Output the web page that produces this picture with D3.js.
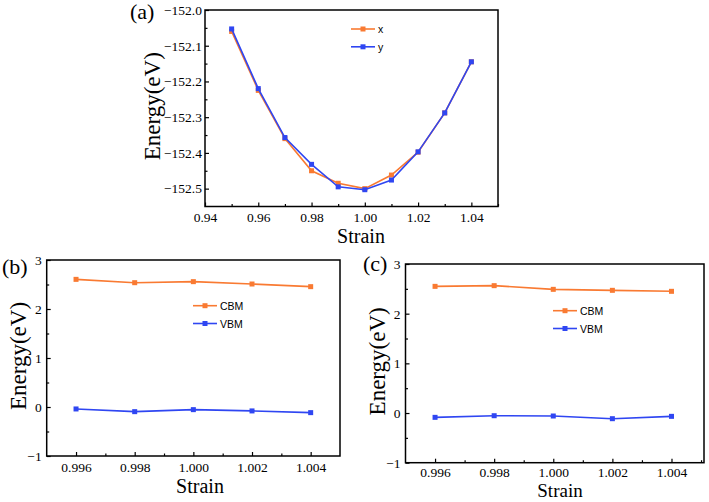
<!DOCTYPE html>
<html>

<head>
    <meta charset='utf-8'>
</head>
<style>
    body {
        margin: 0;
        background: #fff;
    }

    .frame {
        fill: none;
        stroke: #000;
        stroke-width: 1.5px;
    }

    .title {
        font-family: "Liberation Serif", "Times New Roman", serif;
        fill: #000;
    }

    .legend text {
        font-family: "Liberation Sans", Arial, sans-serif;
        font-size: 10.5px;
        fill: #000;
    }
</style>

<body>
    <div id='chart'></div>
    <script src="https://d3js.org/d3.v7.min.js"></script>
    <script>
        // panel (a): total energy vs strain
        var strainA = [0.95, 0.96, 0.97, 0.98, 0.99, 1.00, 1.01, 1.02, 1.03, 1.04];
        var energyX = [-152.060, -152.225, -152.360, -152.450, -152.485, -152.500, -152.462, -152.398, -152.288, -152.145];
        var energyY = [-152.053, -152.220, -152.357, -152.432, -152.495, -152.503, -152.476, -152.397, -152.288, -152.145];
        var xTicksA = [0.94, 0.96, 0.98, 1.00, 1.02, 1.04];
        var yTicksA = [-152.0, -152.1, -152.2, -152.3, -152.4, -152.5];

        // panels (b) and (c): band edges vs strain
        var strainBC = [0.996, 0.998, 1.000, 1.002, 1.004];
        var cbmB = [2.605, 2.537, 2.558, 2.510, 2.456];
        var vbmB = [-0.040, -0.095, -0.054, -0.080, -0.115];
        var cbmC = [2.550, 2.564, 2.490, 2.470, 2.450];
        var vbmC = [-0.087, -0.054, -0.060, -0.114, -0.067];
        var xTicksBC = [0.996, 0.998, 1.000, 1.002, 1.004];
        var yTicksBC = [-1, 0, 1, 2, 3];

        var orange = '#f97a32';
        var blue = '#2f46f2';
        var serif = '"Liberation Serif", "Times New Roman", serif';

        var svg = d3.select('#chart').append('svg')
            .attr('width', 709)
            .attr('height', 502);

        var panels = [{
            tag: '(a)', tagX: 130, tagY: 19,
            left: 205, right: 498, top: 10, bottom: 206.5,
            xDomain: [0.94, 1.05], yDomain: [-152.55, -152.0],
            xTicks: xTicksA, yTicks: yTicksA, xFmt: '.2f', yFmt: '.1f',
            xMinorStep: 0.01,
            xPad: 6, yPad: 3,
            yTitleX: 160, xTitleX: 361, xTitleY: 243, xTitleSize: 20,
            x: strainA,
            series: [{ name: 'x', values: energyX, color: orange }, { name: 'y', values: energyY, color: blue }],
            legX: 351, legY: 29
        }, {
            tag: '(b)', tagX: 2, tagY: 274,
            left: 46.7, right: 340, top: 260, bottom: 456,
            xDomain: [0.995, 1.005], yDomain: [-1, 3],
            xTicks: xTicksBC, yTicks: yTicksBC, xFmt: '.3f', yFmt: 'd',
            xMinorStep: 0.001,
            xPad: 6, yPad: 5,
            yTitleX: 26, xTitleX: 200, xTitleY: 493, xTitleSize: 20,
            x: strainBC,
            series: [{ name: 'CBM', values: cbmB, color: orange }, { name: 'VBM', values: vbmB, color: blue }],
            legX: 193, legY: 305.7
        }, {
            tag: '(c)', tagX: 363, tagY: 271,
            left: 405.5, right: 704, top: 264, bottom: 462.7,
            xDomain: [0.995, 1.0051], yDomain: [-1, 3],
            xTicks: xTicksBC, yTicks: yTicksBC, xFmt: '.3f', yFmt: 'd',
            xMinorStep: 0.001,
            xPad: 4.5, yPad: 5,
            yTitleX: 385, xTitleX: 560, xTitleY: 497, xTitleSize: 19,
            x: strainBC,
            series: [{ name: 'CBM', values: cbmC, color: orange }, { name: 'VBM', values: vbmC, color: blue }],
            legX: 553, legY: 310.7
        }];

        panels.forEach(drawPanel);

        function styleAxis(s) {
            s.select('.domain').remove();
            s.attr('font-family', serif).attr('font-size', 13.5);
            s.selectAll('.tick line').attr('stroke-width', 1.2);
        }

        function drawPanel(p) {
            var x = d3.scaleLinear().domain(p.xDomain).range([p.left, p.right]);
            var y = d3.scaleLinear().domain(p.yDomain).range([p.bottom, p.top]);
            var g = svg.append('g');

            // minor ticks halfway between majors (inward, no labels)
            var xMinor = d3.range(p.xTicks[0] - p.xMinorStep, p.xDomain[1], p.xMinorStep * 2)
                .filter(function(v) { return v > p.xDomain[0] + 1e-9; });
            var yMinor = p.yTicks.slice(0, -1).map(function(v, i) { return (v + p.yTicks[i + 1]) / 2; });

            g.append('g')
                .attr('transform', 'translate(0,' + p.bottom + ')')
                .call(d3.axisBottom(x).tickValues(xMinor).tickSize(-2.5).tickFormat(''))
                .call(styleAxis);
            g.append('g')
                .attr('transform', 'translate(' + p.left + ',0)')
                .call(d3.axisLeft(y).tickValues(yMinor).tickSize(-2.5).tickFormat(''))
                .call(styleAxis);

            // major ticks
            g.append('g')
                .attr('transform', 'translate(0,' + p.bottom + ')')
                .call(d3.axisBottom(x).tickValues(p.xTicks).tickSize(-4).tickPadding(p.xPad).tickFormat(d3.format(p.xFmt)))
                .call(styleAxis);
            g.append('g')
                .attr('transform', 'translate(' + p.left + ',0)')
                .call(d3.axisLeft(y).tickValues(p.yTicks).tickSize(-4).tickPadding(p.yPad).tickFormat(d3.format(p.yFmt)))
                .call(styleAxis);

            g.append('rect').attr('class', 'frame')
                .attr('x', p.left).attr('y', p.top)
                .attr('width', p.right - p.left).attr('height', p.bottom - p.top);

            var line = d3.line()
                .x(function(d) { return x(d[0]); })
                .y(function(d) { return y(d[1]); });

            p.series.forEach(function(s) {
                var pts = p.x.map(function(v, i) { return [v, s.values[i]]; });
                g.append('path')
                    .datum(pts)
                    .attr('d', line)
                    .attr('fill', 'none')
                    .attr('stroke', s.color)
                    .attr('stroke-width', 1.6);
                g.selectAll(null).data(pts).enter().append('rect')
                    .attr('x', function(d) { return x(d[0]) - 2.5; })
                    .attr('y', function(d) { return y(d[1]) - 2.5; })
                    .attr('width', 5).attr('height', 5)
                    .attr('fill', s.color);
            });

            // legend
            var leg = g.append('g').attr('class', 'legend');
            p.series.forEach(function(s, i) {
                var ly = p.legY + i * 17.8;
                leg.append('line')
                    .attr('x1', p.legX).attr('x2', p.legX + 24)
                    .attr('y1', ly).attr('y2', ly)
                    .attr('stroke', s.color).attr('stroke-width', 1.6);
                leg.append('rect')
                    .attr('x', p.legX + 12 - 2.5).attr('y', ly - 2.5)
                    .attr('width', 5).attr('height', 5)
                    .attr('fill', s.color);
                leg.append('text')
                    .attr('x', p.legX + 27).attr('y', ly + 4)
                    .text(s.name);
            });

            // titles
            g.append('text').attr('class', 'title')
                .attr('transform', 'translate(' + p.yTitleX + ',' + ((p.top + p.bottom) / 2 - 2) + ') rotate(-90)')
                .attr('text-anchor', 'middle')
                .attr('font-size', 23)
                .text('Energy(eV)');
            g.append('text').attr('class', 'title')
                .attr('x', p.xTitleX).attr('y', p.xTitleY)
                .attr('text-anchor', 'middle')
                .attr('font-size', p.xTitleSize)
                .text('Strain');
            g.append('text').attr('class', 'title')
                .attr('x', p.tagX).attr('y', p.tagY)
                .attr('font-size', 22)
                .text(p.tag);
        }
    </script>
</body>

</html>
